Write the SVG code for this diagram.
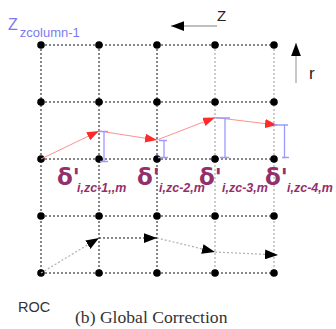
<svg xmlns="http://www.w3.org/2000/svg" width="336" height="329" viewBox="0 0 336 329">
<style>
.h{stroke:#111;stroke-width:1;stroke-dasharray:2,2;fill:none}
.v{stroke:#111;stroke-width:1;stroke-dasharray:2,2;fill:none}
.vg{stroke:#999;stroke-width:1;stroke-dasharray:2,2;fill:none}
.dot{fill:#000}
.red{stroke:#ff9090;stroke-width:1;fill:none}
.brk{stroke:#9a9aff;stroke-width:1.3;fill:none}
.bk{stroke:#111;stroke-width:1;stroke-dasharray:2,2;fill:none}
.gr{stroke:#b0b0b0;stroke-width:1.2;stroke-dasharray:2,2;fill:none}
.d{font-family:"DejaVu Sans",sans-serif;font-weight:bold;font-size:23px;fill:#93306a}
.s{font-family:"Liberation Sans",Arial,sans-serif;font-style:italic;font-weight:bold;font-size:12.5px;fill:#93306a}
</style>
<defs>
<marker id="ra" viewBox="0 0 12 9" refX="12" refY="4.5" markerWidth="12" markerHeight="9" markerUnits="userSpaceOnUse" orient="auto"><path d="M0,0L12,4.5L0,9z" fill="#ff2a2a"/></marker>
<marker id="ba" viewBox="0 0 12 9" refX="12" refY="4.5" markerWidth="13" markerHeight="10" markerUnits="userSpaceOnUse" orient="auto"><path d="M0,0L12,4.5L0,9z" fill="#000"/></marker>
</defs>
<g id="grid">
<path class="h" d="M41,45H274M41,102H274M41,159H274M41,216H274M41,273H274"/>
<path class="v" d="M41,45V273M99,45V273M157,45V273"/>
<path class="vg" d="M215,45V273M274,45V273"/>
</g>
<g id="nodes">
<g id="r1"><circle class="dot" cx="41" cy="45" r="3.8"/><circle class="dot" cx="99" cy="45" r="3.8"/><circle class="dot" cx="157" cy="45" r="3.8"/><circle class="dot" cx="215" cy="45" r="3.8"/><circle class="dot" cx="274" cy="45" r="3.8"/></g>
<g id="r2"><circle class="dot" cx="41" cy="102" r="3.8"/><circle class="dot" cx="99" cy="102" r="3.8"/><circle class="dot" cx="157" cy="102" r="3.8"/><circle class="dot" cx="215" cy="102" r="3.8"/><circle class="dot" cx="274" cy="102" r="3.8"/></g>
<g id="r3"><circle class="dot" cx="41" cy="159" r="3.8"/><circle class="dot" cx="99" cy="159" r="3.8"/><circle class="dot" cx="157" cy="159" r="3.8"/><circle class="dot" cx="215" cy="159" r="3.8"/><circle class="dot" cx="274" cy="159" r="3.8"/></g>
<g id="r4"><circle class="dot" cx="41" cy="216" r="3.8"/><circle class="dot" cx="99" cy="216" r="3.8"/><circle class="dot" cx="157" cy="216" r="3.8"/><circle class="dot" cx="215" cy="216" r="3.8"/><circle class="dot" cx="274" cy="216" r="3.8"/></g>
<g id="r5"><circle class="dot" cx="41" cy="273" r="3.8"/><circle class="dot" cx="99" cy="273" r="3.8"/><circle class="dot" cx="157" cy="273" r="3.8"/><circle class="dot" cx="215" cy="273" r="3.8"/><circle class="dot" cx="274" cy="273" r="3.8"/></g>
</g>
<g id="connectors">
<line class="red" x1="41" y1="159" x2="99" y2="131" marker-end="url(#ra)"/>
<line class="red" x1="99" y1="131" x2="157" y2="140" marker-end="url(#ra)"/>
<line class="red" x1="157" y1="140" x2="215" y2="117.5" marker-end="url(#ra)"/>
<line class="red" x1="215" y1="117.5" x2="277" y2="125" marker-end="url(#ra)"/>
<line class="gr" x1="41" y1="273" x2="99" y2="238" marker-end="url(#ba)"/>
<line class="bk" x1="99" y1="238" x2="157" y2="238" marker-end="url(#ba)"/>
<line class="gr" x1="157" y1="238" x2="215" y2="252" marker-end="url(#ba)"/>
<line class="gr" x1="215" y1="252" x2="278" y2="255" marker-end="url(#ba)"/>
</g>
<g id="brackets">
<path class="brk" d="M99,131.5H108M104,131.5V161.5M100,161.5H108"/>
<path class="brk" d="M159,140.5H167M164,140.5V157.5M158,157.5H168"/>
<path class="brk" d="M216,118H230M225,118V157.5M220,157.5H229"/>
<path class="brk" d="M274,125H288M284.5,125V157.5M282,157.5H289"/>
</g>
<g id="labels">
<text class="d" x="57" y="185">δ'</text><text class="s" x="77" y="192">i,zc-1,,m</text>
<text class="d" x="137" y="185">δ'</text><text class="s" x="159" y="192">i,zc-2,m</text>
<text class="d" x="199" y="185">δ'</text><text class="s" x="222" y="192">i,zc-3,m</text>
<text class="d" x="265" y="185">δ'</text><text class="s" x="287" y="192">i,zc-4,m</text>
</g>
<g id="axes">
<line x1="217" y1="26" x2="171" y2="26" stroke="#aaa" stroke-width="1.3" marker-end="url(#ba)"/>
<text x="217" y="21" font-family="Liberation Sans,Arial,sans-serif" font-size="15" fill="#222">Z</text>
<line x1="296" y1="83" x2="296" y2="43" stroke="#aaa" stroke-width="1.3" marker-end="url(#ba)"/>
<text x="309" y="79" font-family="Liberation Sans,Arial,sans-serif" font-size="17" fill="#222">r</text>
<text x="8" y="30" font-family="Liberation Sans,Arial,sans-serif" font-size="16" fill="#7b7bef">Z<tspan font-size="13" dy="6.5" dx="2">zcolumn-1</tspan></text>
<text x="18" y="312" font-family="Liberation Sans,Arial,sans-serif" font-size="14.5" fill="#333">ROC</text>
<text x="75" y="323" font-family="Liberation Serif,Times New Roman,serif" font-size="17.6" fill="#333">(b) Global Correction</text>
</g>
</svg>
